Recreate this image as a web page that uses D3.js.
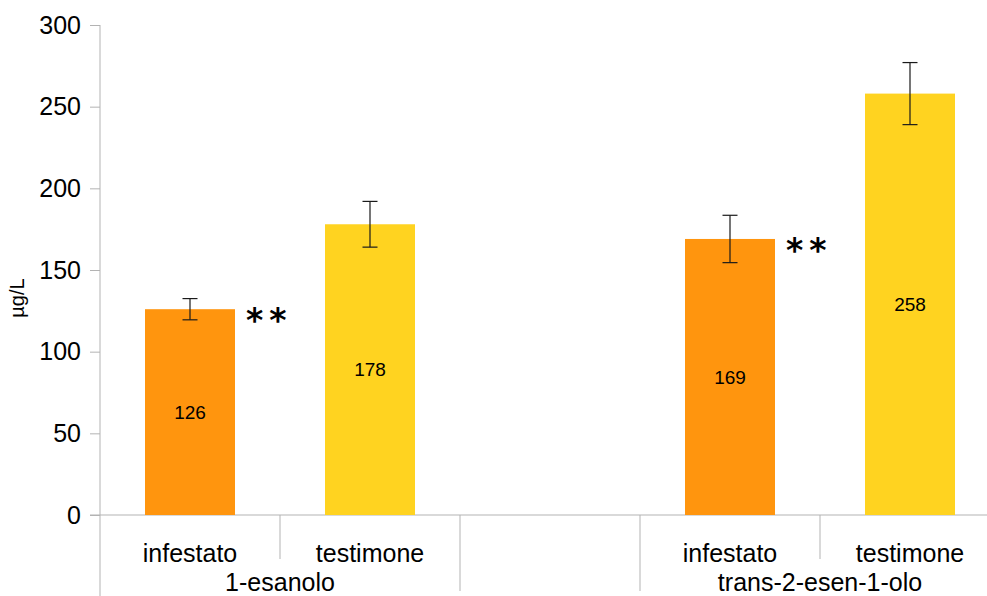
<!DOCTYPE html>
<html>
<head>
<meta charset="utf-8">
<script src="https://cdn.jsdelivr.net/npm/d3@7"></script>
<style>
	body { margin: 0; background: #fff; }
	svg { display: block; font-family: "Liberation Sans", Arial, sans-serif; }
</style>
</head>
<body>
<div id="chart"></div>
<script>
const groups = ["1-esanolo", "trans-2-esen-1-olo"]
const series = ["infestato", "testimone"]
const infestato = [126, 169]
const testimone = [178, 258]
const infestatoErr = [6.5, 14.5]
const testimoneErr = [14, 19]
const significance = ["**", "**"]
const yTicks = [0, 50, 100, 150, 200, 250, 300]
const yLabel = "µg/L"

const colors = { infestato: "#ff950e", testimone: "#ffd320" }
const axisColor = "#b3b3b3"

const width = 987
const height = 596
const marginLeft = 100
const plotRight = 1000
const plotTop = 25
const plotBottom = 515

// slots: each group's categories, with an empty slot between groups
const slots = []
groups.forEach((g, gi) => {
	if (gi > 0) slots.push(`gap-${gi}`)
	series.forEach(s => slots.push(`${g}|${s}`))
})

const bars = []
groups.forEach((g, gi) => {
	bars.push({ group: g, series: "infestato", value: infestato[gi], err: infestatoErr[gi] })
	bars.push({ group: g, series: "testimone", value: testimone[gi], err: testimoneErr[gi] })
})

const x = d3.scaleBand().domain(slots).range([marginLeft, plotRight]).padding(0)
const y = d3.scaleLinear().domain([0, 300]).range([plotBottom, plotTop])
const barWidth = x.bandwidth() * 0.5

const svg = d3.select("#chart").append("svg").attr("width", width).attr("height", height)

// y axis
const yAxis = svg
	.append("g")
	.attr("transform", `translate(${marginLeft},0)`)
	.call(d3.axisLeft(y).tickValues(yTicks).tickSize(10).tickPadding(9))
yAxis.select(".domain").remove()
yAxis.selectAll(".tick line").attr("stroke", axisColor)
yAxis.selectAll(".tick text").attr("font-size", 25).attr("fill", "#000").attr("font-family", "Liberation Sans, Arial, sans-serif")

svg.append("line")
	.attr("x1", marginLeft).attr("x2", marginLeft)
	.attr("y1", plotTop).attr("y2", height)
	.attr("stroke", axisColor)

svg.append("line")
	.attr("x1", marginLeft - 10).attr("x2", width)
	.attr("y1", plotBottom).attr("y2", plotBottom)
	.attr("stroke", axisColor)

svg.append("text")
	.attr("transform", `translate(24,${298}) rotate(-90)`)
	.attr("text-anchor", "middle")
	.attr("font-size", 20)
	.text(yLabel)

// category separators
slots.forEach((s, i) => {
	if (i === 0) return
	const prev = slots[i - 1]
	const sameGroup = !s.startsWith("gap") && !prev.startsWith("gap") && s.split("|")[0] === prev.split("|")[0]
	svg.append("line")
		.attr("x1", x(s)).attr("x2", x(s))
		.attr("y1", plotBottom).attr("y2", sameGroup ? 559 : 591)
		.attr("stroke", axisColor)
})

// category labels
bars.forEach(d => {
	const key = `${d.group}|${d.series}`
	svg.append("text")
		.attr("x", x(key) + x.bandwidth() / 2)
		.attr("y", 562)
		.attr("text-anchor", "middle")
		.attr("font-size", 25)
		.text(d.series)
})

groups.forEach(g => {
	const first = x(`${g}|${series[0]}`)
	const last = x(`${g}|${series[series.length - 1]}`) + x.bandwidth()
	svg.append("text")
		.attr("x", (first + last) / 2)
		.attr("y", 591)
		.attr("text-anchor", "middle")
		.attr("font-size", 25)
		.text(g)
})

// bars
const barG = svg.append("g")
barG.selectAll("rect")
	.data(bars)
	.enter()
	.append("rect")
	.attr("x", d => x(`${d.group}|${d.series}`) + (x.bandwidth() - barWidth) / 2)
	.attr("y", d => y(d.value))
	.attr("width", barWidth)
	.attr("height", d => y(0) - y(d.value))
	.attr("fill", d => colors[d.series])

// value labels
barG.selectAll(".value")
	.data(bars)
	.enter()
	.append("text")
	.attr("class", "value")
	.attr("x", d => x(`${d.group}|${d.series}`) + x.bandwidth() / 2)
	.attr("y", d => (y(d.value) + y(0)) / 2)
	.attr("dy", "0.35em")
	.attr("text-anchor", "middle")
	.attr("font-size", 19)
	.text(d => d.value)

// error bars
const errG = svg.append("g").attr("stroke", "#1a1a1a").attr("stroke-width", 1.2)
bars.forEach(d => {
	const cx = x(`${d.group}|${d.series}`) + x.bandwidth() / 2
	const top = y(d.value + d.err)
	const bottom = y(d.value - d.err)
	errG.append("line").attr("x1", cx).attr("x2", cx).attr("y1", top).attr("y2", bottom)
	errG.append("line").attr("x1", cx - 7.5).attr("x2", cx + 7.5).attr("y1", top).attr("y2", top)
	errG.append("line").attr("x1", cx - 7.5).attr("x2", cx + 7.5).attr("y1", bottom).attr("y2", bottom)
})

// significance marks
groups.forEach((g, gi) => {
	const key = `${g}|infestato`
	svg.append("text")
		.attr("x", x(key) + (x.bandwidth() + barWidth) / 2 + 11)
		.attr("y", y(infestato[gi]) + 23)
		.attr("font-family", "DejaVu Sans, sans-serif")
		.attr("font-weight", "bold")
		.attr("font-size", 33)
		.attr("letter-spacing", 6)
		.text(significance[gi])
})
</script>
</body>
</html>
